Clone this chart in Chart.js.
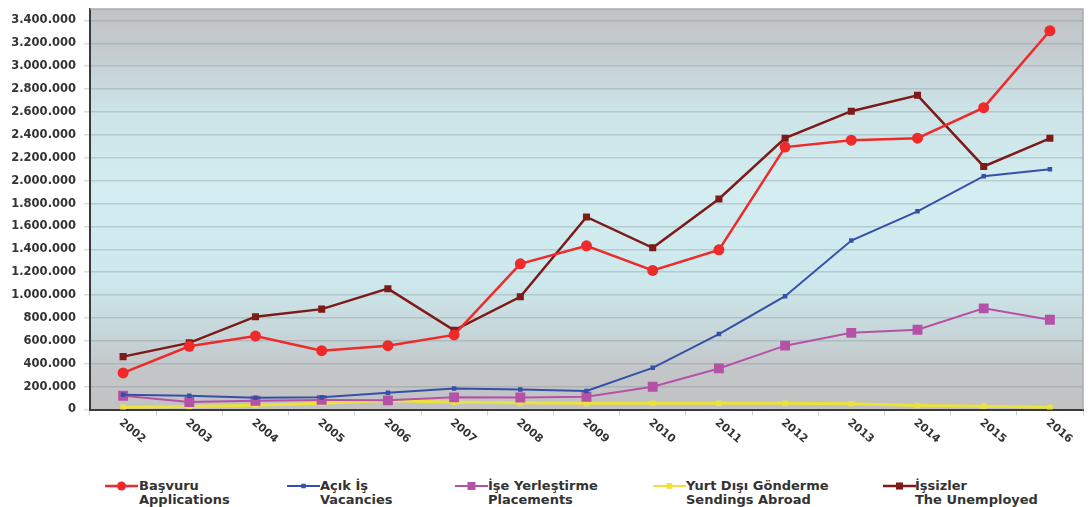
<!DOCTYPE html>
<html><head><meta charset="utf-8">
<script src="https://cdn.jsdelivr.net/npm/chart.js@4"></script>
<style>
html,body{margin:0;padding:0;background:#fff;width:1090px;height:507px;overflow:hidden;}
#wrap{position:relative;width:1090px;height:507px;}
#c{position:absolute;left:0;top:0;}
.lg{position:absolute;top:0;left:0;}
.lg .t{position:absolute;white-space:nowrap;font:bold 13px "DejaVu Sans";color:#333;line-height:14px;}
.lg svg{position:absolute;}
</style></head>
<body><div id="wrap"><canvas id="c" width="1090" height="470"></canvas><div class="lg" id="lg"></div></div>
<script>
const years = ['2002','2003','2004','2005','2006','2007','2008','2009','2010','2011','2012','2013','2014','2015','2016'];
const basvuru  = [320000, 552000, 642000, 514000, 558000, 652000, 1273000, 1430000, 1215000, 1395000, 2293000, 2354000, 2371000, 2638000, 3310000];
const acikIs   = [128000, 120000, 103000, 106000, 147000, 183000, 174000, 162000, 364000, 659000, 990000, 1476000, 1732000, 2039000, 2100000];
const iseYer   = [120000, 66000, 76000, 84000, 80000, 106000, 105000, 111000, 199000, 359000, 558000, 670000, 697000, 884000, 784000];
const yurtDisi = [20000, 27000, 38000, 55000, 78000, 63000, 58000, 54000, 55000, 55000, 55000, 50000, 35000, 29000, 20000];
const issizler = [462000, 582000, 811000, 877000, 1056000, 692000, 985000, 1683000, 1413000, 1840000, 2371000, 2607000, 2746000, 2124000, 2370000];
const seriesNames = [['Başvuru','Applications'],['Açık İş','Vacancies'],['İşe Yerleştirme','Placements'],['Yurt Dışı Gönderme','Sendings Abroad'],['İşsizler','The Unemployed']];
const yTickValues = [0,200000,400000,600000,800000,1000000,1200000,1400000,1600000,1800000,2000000,2200000,2400000,2600000,2800000,3000000,3200000,3400000];
const yMax = 3500000;

const H = 470;
const fmt = v => String(v).replace(/\B(?=(\d{3})+(?!\d))/g,'.');

const styles = [
  {color:'#ee2a2a', style:'circle', r:5.5, w:2.5, lw:2.5, lx:105, tx:139},
  {color:'#3550a8', style:'rect', r:3.2, w:2, lw:2, lx:287, tx:320},
  {color:'#b552a8', style:'rect', r:7, w:2, lw:2, lx:455, tx:488},
  {color:'#ece23c', style:'rect', r:4, w:3, lw:1.8, lx:653, tx:686},
  {color:'#7d1a1a', style:'rect', r:5, w:2.5, lw:2.5, lx:883, tx:915}
];
const values = [basvuru, acikIs, iseYer, yurtDisi, issizler];

const bgPlugin = {
  id:'bg',
  beforeDraw(chart){
    const {ctx, chartArea:a} = chart;
    const g = ctx.createLinearGradient(0,a.top,0,a.bottom);
    g.addColorStop(0,'#c1c3c6');
    g.addColorStop(0.1,'#c3cbce');
    g.addColorStop(0.25,'#cce3e7');
    g.addColorStop(0.45,'#d3edf1');
    g.addColorStop(0.68,'#cde8ec');
    g.addColorStop(0.82,'#c6d4d7');
    g.addColorStop(0.9,'#c3c6c8');
    g.addColorStop(1,'#c2c2c3');
    ctx.save(); ctx.fillStyle=g; ctx.fillRect(a.left,a.top,a.right-a.left,a.bottom-a.top); ctx.restore();
  },
  afterDraw(chart){
    const {ctx, chartArea:a} = chart;
    ctx.save();
    ctx.strokeStyle='#a9abad'; ctx.lineWidth=1.5;
    ctx.beginPath(); ctx.moveTo(a.left,a.top); ctx.lineTo(a.right,a.top); ctx.lineTo(a.right,a.bottom); ctx.stroke();
    const xs = chart.scales.x;
    ctx.font='bold 11px "DejaVu Sans"'; ctx.fillStyle='#333';
    ctx.textAlign='left'; ctx.textBaseline='top';
    xs.ticks.forEach((t,i)=>{
      const x = xs.getPixelForTick(i);
      ctx.save(); ctx.translate(x+1, 417); ctx.rotate(40*Math.PI/180);
      ctx.fillText(xs.getLabelForValue(t.value),0,0); ctx.restore();
    });
    ctx.restore();
  }
};

new Chart(document.getElementById('c'), {
  type:'line',
  data:{
    labels: years,
    datasets: values.map((v,i)=>({
      label: seriesNames[i].join(' '),
      data: v,
      borderColor: styles[i].color,
      backgroundColor: styles[i].color,
      borderWidth: styles[i].w,
      pointStyle: styles[i].style,
      pointRadius: styles[i].r,
      pointHoverRadius: styles[i].r,
      pointBorderWidth: 0,
      tension: 0,
      fill: false
    }))
  },
  options:{
    responsive:false, animation:false, devicePixelRatio:1,
    layout:{padding:{top:9,right:1,left:0,bottom:0}},
    plugins:{legend:{display:false}, tooltip:{enabled:false}},
    scales:{
      x:{
        offset:true,
        grid:{offset:true, drawOnChartArea:false, drawTicks:true, tickLength:6, color:'#cfcfcf', lineWidth:1},
        border:{display:true, color:'#3a3a3a', width:2},
        ticks:{display:false},
        afterFit(s){ s.height = H - 409.5; s.paddingLeft = 0; s.paddingRight = 0; }
      },
      y:{
        min:0, max:yMax,
        afterBuildTicks(s){ s.ticks = yTickValues.concat([yMax]).map(v=>({value:v})); },
        ticks:{autoSkip:false, font:{family:'DejaVu Sans', size:11.5, weight:'bold'}, color:'#333', padding:8,
          callback:(v)=> v===yMax ? '' : fmt(v)},
        grid:{color:(c)=> c.tick && c.tick.value===yMax ? 'rgba(0,0,0,0)' : 'rgba(110,130,135,0.28)', lineWidth:1.5, tickLength:6, drawTicks:true},
        border:{display:true, color:'#3a3a3a', width:2},
        afterFit(s){ s.width = 90; s.paddingTop = 0; s.paddingBottom = 0; }
      }
    }
  },
  plugins:[bgPlugin]
});

// legend
const lg = document.getElementById('lg');
styles.forEach((s,i)=>{
  const svg = document.createElementNS('http://www.w3.org/2000/svg','svg');
  svg.setAttribute('width','34'); svg.setAttribute('height','14');
  svg.style.left = s.lx+'px'; svg.style.top = '479px';
  const cy = 7;
  let m = `<line x1="0" y1="${cy}" x2="33" y2="${cy}" stroke="${s.color}" stroke-width="${s.lw}"/>`;
  if (s.style==='circle') m += `<circle cx="16.5" cy="${cy}" r="4.5" fill="${s.color}"/>`;
  else { const h = Math.min(s.r*1.414, 8); m += `<rect x="${16.5-h/2}" y="${cy-h/2}" width="${h}" height="${h}" fill="${s.color}"/>`; }
  svg.innerHTML = m;
  lg.appendChild(svg);
  const t = document.createElement('div');
  t.className='t'; t.style.left = s.tx+'px'; t.style.top = '479px';
  t.innerHTML = seriesNames[i][0] + '<br>' + seriesNames[i][1];
  lg.appendChild(t);
});
</script></body></html>
